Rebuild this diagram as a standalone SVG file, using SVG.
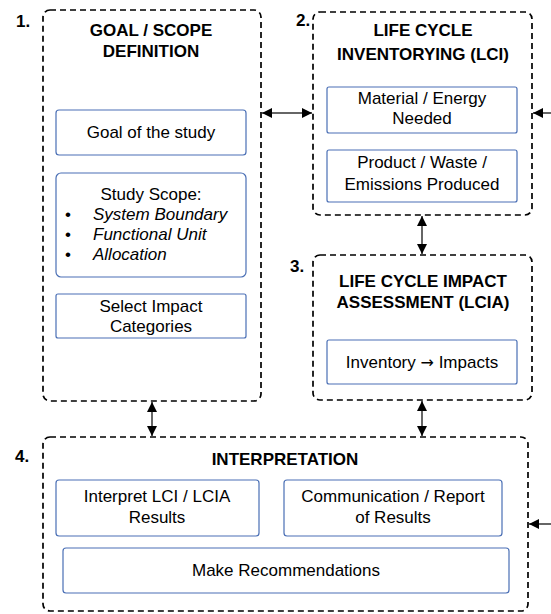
<svg xmlns="http://www.w3.org/2000/svg" width="551" height="614" viewBox="0 0 551 614">
<defs>
<style>
.stage{fill:none;stroke:#000;stroke-width:1.7;stroke-dasharray:6 4}
.box{fill:#fff;stroke:#4a6fb5;stroke-width:1.2}
.num{font-family:"Liberation Sans",Arial,sans-serif;font-weight:bold;font-size:17px;fill:#000}
.title{font-family:"Liberation Sans",Arial,sans-serif;font-weight:bold;font-size:17px;fill:#000;text-anchor:middle}
.t{font-family:"Liberation Sans",Arial,sans-serif;font-size:17px;fill:#000;text-anchor:middle}
.ti{font-family:"Liberation Sans",Arial,sans-serif;font-size:17px;font-style:italic;fill:#000}
.tb{font-family:"Liberation Sans",Arial,sans-serif;font-size:17px;fill:#000}
.arr{font-family:"DejaVu Sans",sans-serif;font-size:16px}
.conn{stroke:#333;stroke-width:1.5;fill:none}
</style>
<marker id="ah" viewBox="0 0 10 10" refX="10" refY="5" markerWidth="10" markerHeight="10" markerUnits="userSpaceOnUse" orient="auto-start-reverse">
<path d="M0,0 L10,5 L0,10 z" fill="#000"/>
</marker>
</defs>

<g id="stage1">
<rect class="stage" x="43" y="10" width="218" height="391" rx="7"/>
<text class="num" x="16" y="27">1.</text>
<text class="title" x="151" y="36">GOAL / SCOPE</text>
<text class="title" x="151" y="57">DEFINITION</text>
</g>
<g id="goal">
<rect class="box" x="56" y="110" width="190" height="45" rx="3"/>
<text class="t" x="151" y="138">Goal of the study</text>
</g>
<g id="scope">
<rect class="box" x="56" y="173" width="190" height="104" rx="5"/>
<text class="t" x="151" y="200">Study Scope:</text>
<text class="tb" x="65" y="220">•</text>
<text class="ti" x="93" y="220">System Boundary</text>
<text class="tb" x="65" y="240">•</text>
<text class="ti" x="93" y="240">Functional Unit</text>
<text class="tb" x="65" y="260">•</text>
<text class="ti" x="93" y="260">Allocation</text>
</g>
<g id="impactcat">
<rect class="box" x="56" y="294" width="190" height="44" rx="2"/>
<text class="t" x="151" y="312">Select Impact</text>
<text class="t" x="151" y="332">Categories</text>
</g>

<g id="stage2">
<rect class="stage" x="313" y="12" width="219" height="203" rx="7"/>
<text class="num" x="296" y="26">2.</text>
<text class="title" x="423" y="36">LIFE CYCLE</text>
<text class="title" x="423" y="60">INVENTORYING (LCI)</text>
</g>
<g id="material">
<rect class="box" x="327" y="87" width="190" height="46" rx="2"/>
<text class="t" x="422" y="104">Material / Energy</text>
<text class="t" x="422" y="124">Needed</text>
</g>
<g id="product">
<rect class="box" x="327" y="150" width="190" height="52" rx="2"/>
<text class="t" x="422" y="168">Product / Waste /</text>
<text class="t" x="422" y="190">Emissions Produced</text>
</g>

<g id="stage3">
<rect class="stage" x="313" y="255" width="219" height="145" rx="7"/>
<text class="num" x="290" y="272">3.</text>
<text class="title" x="423" y="287">LIFE CYCLE IMPACT</text>
<text class="title" x="423" y="308">ASSESSMENT (LCIA)</text>
</g>
<g id="inventory">
<rect class="box" x="327" y="340" width="190" height="44" rx="2"/>
<text class="t" x="422" y="368">Inventory <tspan class="arr">→</tspan> Impacts</text>
</g>

<g id="stage4">
<rect class="stage" x="43" y="437" width="485" height="174" rx="7"/>
<text class="num" x="15" y="462">4.</text>
<text class="title" x="285" y="465">INTERPRETATION</text>
</g>
<g id="interpret">
<rect class="box" x="56" y="480" width="203" height="56" rx="3"/>
<text class="t" x="157" y="502">Interpret LCI / LCIA</text>
<text class="t" x="157" y="523">Results</text>
</g>
<g id="communication">
<rect class="box" x="284" y="480" width="218" height="56" rx="3"/>
<text class="t" x="393" y="502">Communication / Report</text>
<text class="t" x="393" y="523">of Results</text>
</g>
<g id="recommend">
<rect class="box" x="63" y="548" width="446" height="45" rx="3"/>
<text class="t" x="286" y="576">Make Recommendations</text>
</g>

<g id="connectors">
<line class="conn" x1="262" y1="113" x2="312" y2="113" marker-start="url(#ah)" marker-end="url(#ah)"/>
<line class="conn" x1="551" y1="113" x2="533" y2="113" marker-end="url(#ah)"/>
<line class="conn" x1="422" y1="216" x2="422" y2="254" marker-start="url(#ah)" marker-end="url(#ah)"/>
<line class="conn" x1="152" y1="402" x2="152" y2="436" marker-start="url(#ah)" marker-end="url(#ah)"/>
<line class="conn" x1="422" y1="401" x2="422" y2="436" marker-start="url(#ah)" marker-end="url(#ah)"/>
<line class="conn" x1="551" y1="524" x2="529" y2="524" marker-end="url(#ah)"/>
</g>
</svg>
